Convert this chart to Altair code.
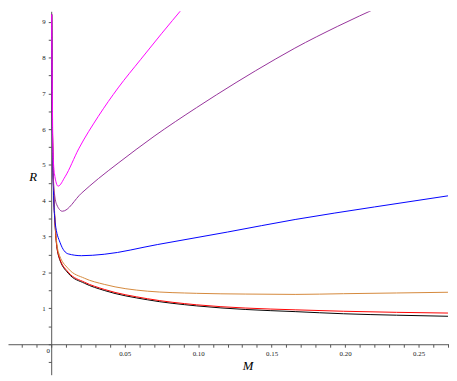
import altair as alt
import pandas as pd

# ---- data ----
series_names = ["black", "red", "orange", "blue", "purple", "magenta"]
series_colors = ["#000000", "#FF0000", "#D4883A", "#0000FF", "#95319A", "#FF00FF"]

M_low = [0.0003, 0.001, 0.0027, 0.0049, 0.0116, 0.0227, 0.0361, 0.0655, 0.099, 0.132, 0.166, 0.199, 0.235, 0.27]
R_black = [9.2, 5.5, 3.30, 2.48, 1.98, 1.70, 1.50, 1.24, 1.07, 0.97, 0.91, 0.85, 0.81, 0.78]
R_red = [9.2, 5.5, 3.32, 2.50, 2.01, 1.73, 1.53, 1.27, 1.10, 1.01, 0.96, 0.92, 0.89, 0.87]
R_orange = [9.2, 5.6, 3.40, 2.57, 2.11, 1.84, 1.67, 1.48, 1.42, 1.40, 1.39, 1.41, 1.43, 1.45]

M_blue = [0.0003, 0.001, 0.0027, 0.006, 0.0116, 0.0205, 0.0361, 0.0722, 0.12, 0.166, 0.22, 0.27]
R_blue = [9.2, 5.2, 3.39, 2.84, 2.52, 2.47, 2.51, 2.78, 3.13, 3.48, 3.83, 4.14]

M_purple = [0.0003, 0.0012, 0.0022, 0.0038, 0.0076, 0.0205, 0.0321, 0.0455, 0.07, 0.0989, 0.1258, 0.1524, 0.1658, 0.195, 0.2248]
R_purple = [9.2, 5.0, 4.21, 3.89, 3.71, 4.21, 4.62, 5.05, 5.80, 6.60, 7.30, 7.95, 8.26, 8.87, 9.44]

M_magenta = [0.0003, 0.0013, 0.0022, 0.0047, 0.0094, 0.0187, 0.0321, 0.0455, 0.061, 0.075, 0.090]
R_magenta = [9.2, 5.31, 4.76, 4.41, 4.67, 5.45, 6.36, 7.15, 7.95, 8.66, 9.40]

x_tick_values = [-0.02, -0.01, 0.0, 0.01, 0.02, 0.03, 0.04, 0.05, 0.06, 0.07, 0.08, 0.09,
                 0.10, 0.11, 0.12, 0.13, 0.14, 0.15, 0.16, 0.17, 0.18, 0.19, 0.20,
                 0.21, 0.22, 0.23, 0.24, 0.25, 0.26, 0.27]
y_tick_values = [-0.5, 0.0, 0.5, 1.0, 1.5, 2.0, 2.5, 3.0, 3.5, 4.0, 4.5, 5.0,
                 5.5, 6.0, 6.5, 7.0, 7.5, 8.0, 8.5, 9.0]

# ---- layout ----
X_MIN, X_MAX = -0.0294, 0.2707
Y_MIN, Y_MAX = -0.85, 9.288
W, H = 449, 370
FONT = "Liberation Serif"

rows = []
for name, ms, rs in [("black", M_low, R_black), ("red", M_low, R_red), ("orange", M_low, R_orange),
                     ("blue", M_blue, R_blue), ("purple", M_purple, R_purple),
                     ("magenta", M_magenta, R_magenta)]:
    for m, r in zip(ms, rs):
        rows.append({"series": name, "M": m, "R": r})
df = pd.DataFrame(rows)

x_offset = -H * (0 - Y_MIN) / (Y_MAX - Y_MIN)
y_offset = -W * (0 - X_MIN) / (X_MAX - X_MIN)

x_scale = alt.Scale(domain=[X_MIN, X_MAX], nice=False, zero=False)
y_scale = alt.Scale(domain=[Y_MIN, Y_MAX], nice=False, zero=False)

x_axis = alt.Axis(
    orient="bottom", offset=x_offset, values=x_tick_values,
    labelExpr="(round(datum.value*100) % 5 == 0 && datum.value > 0) ? format(datum.value, '.2f') : ''",
    grid=False, domainColor="#555555", domainWidth=1, tickColor="#555555", tickSize=3,
    labelFont=FONT, labelFontSize=7, labelColor="#222222", labelPadding=2,
    labelOverlap=False, labelFlush=False,
    title="M", titleFont=FONT, titleFontStyle="italic", titleFontWeight="normal",
    titleFontSize=13, titleColor="black", titleX=244, titleY=25.5,
    titleAlign="center", titleBaseline="alphabetic",
)
y_axis = alt.Axis(
    orient="left", offset=y_offset, values=y_tick_values,
    labelExpr="(datum.value >= 1 && datum.value % 1 == 0) ? format(datum.value, 'd') : ''",
    grid=False, domainColor="#555555", domainWidth=1, tickColor="#555555", tickSize=3,
    labelFont=FONT, labelFontSize=7, labelColor="#222222", labelPadding=3,
    labelOverlap=False, labelFlush=False,
    title="R", titleFont=FONT, titleFontStyle="italic", titleFontWeight="normal",
    titleFontSize=13, titleColor="black", titleAngle=0, titleX=-19, titleY=172.5,
    titleAlign="center", titleBaseline="alphabetic",
)

x_enc = alt.X("M:Q", scale=x_scale, axis=x_axis)
y_enc = alt.Y("R:Q", scale=y_scale, axis=y_axis)

lines = alt.Chart(df).mark_line(strokeWidth=1, interpolate="monotone", clip=True).encode(
    x=x_enc,
    y=y_enc,
    color=alt.Color("series:N", scale=alt.Scale(domain=series_names, range=series_colors), legend=None),
    order=alt.Order("M:Q"),
)

zero_label = alt.Chart(pd.DataFrame({"M": [0.0], "R": [0.0], "t": ["0"]})).mark_text(
    font=FONT, fontSize=7, color="#222222", dx=-3, dy=7, align="center", baseline="middle"
).encode(x=x_enc, y=y_enc, text="t:N")

chart = alt.layer(lines, zero_label).properties(
    width=W, height=H, padding=0, autosize=alt.AutoSizeParams(type="none")
).configure_view(stroke=None)

chart.save("out.html", embed_options={"renderer": "svg", "actions": False})
